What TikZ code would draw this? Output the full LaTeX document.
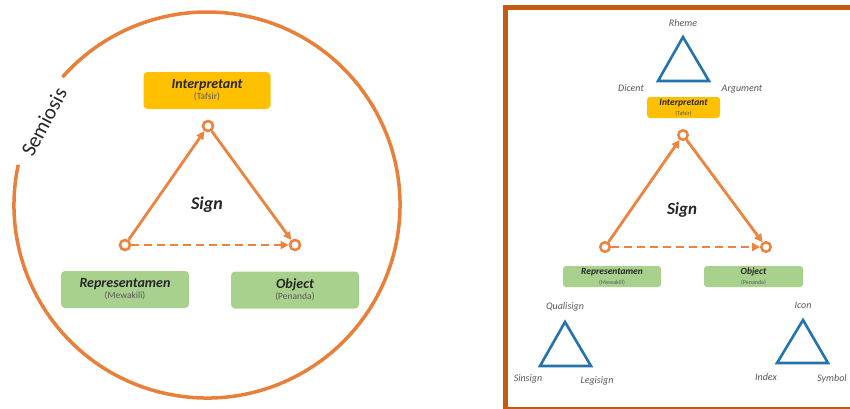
\documentclass[tikz,border=0pt]{standalone}
\usepackage{fontspec}
\setmainfont{Carlito}
\usetikzlibrary{arrows.meta,calc}
\definecolor{semorange}{HTML}{E8803A}
\definecolor{triorange}{HTML}{EC843F}
\definecolor{framebrown}{HTML}{C55A11}
\definecolor{interyellow}{HTML}{FFC000}
\definecolor{boxgreen}{HTML}{A9D18E}
\definecolor{triblue}{HTML}{2374AB}
\definecolor{darktext}{HTML}{262626}
\definecolor{subgray}{HTML}{595959}
\tikzset{
  labelbox/.style={rounded corners=4pt, inner sep=0pt, align=center, text=darktext},
  vtx/.style={circle, draw=triorange, fill=white, line width=2.6pt, minimum size=10pt, inner sep=0pt},
  vtxs/.style={circle, draw=triorange, fill=white, line width=2.5pt, minimum size=9.5pt, inner sep=0pt},
  arr/.style={draw=triorange, line width=2.8pt, -{Triangle[length=8pt,width=8pt]}},
  arrd/.style={arr, dash pattern=on 8pt off 5pt},
  bluetri/.style={draw=triblue, line width=2.6pt, line join=miter},
  termtext/.style={text=subgray, font=\itshape},
}
\begin{document}
\begin{tikzpicture}[x=1pt,y=-1pt]
\clip (0,0) rectangle (850,408);
\fill[white] (0,0) rectangle (850,408);

% ---------------- left panel ----------------
\coordinate (C) at (207,205);
\draw[semorange, line width=3.5pt] ([shift={(168:193pt)}]C) arc[start angle=168, end angle=498.5, radius=193pt];
\node[text=darktext, font=\fontsize{21}{21}\selectfont, rotate=62] (semiosis) at ([shift={(153:183pt)}]C) {Semiosis};

\node[labelbox, fill=interyellow, minimum width=127pt, minimum height=37pt] (interp) at (207,90.5)
  {{\fontsize{14}{15}\selectfont\bfseries\itshape Interpretant}\\[-1pt]{\fontsize{9.5}{10}\selectfont\color{subgray}(Tafsir)}};
\node[labelbox, fill=boxgreen, minimum width=128pt, minimum height=37pt] (repr) at (125,289.5)
  {{\fontsize{14}{15}\selectfont\bfseries\itshape Representamen}\\[-1pt]{\fontsize{9.5}{10}\selectfont\color{subgray}(Mewakili)}};
\node[labelbox, fill=boxgreen, minimum width=128pt, minimum height=37pt] (obj) at (295,290)
  {{\fontsize{14}{15}\selectfont\bfseries\itshape Object}\\[-1pt]{\fontsize{9.5}{10}\selectfont\color{subgray}(Penanda)}};

\node[vtx] (T) at (208,126) {};
\node[vtx] (L) at (125,245) {};
\node[vtx] (R) at (295,245) {};
\draw[arr] (L) -- (T);
\draw[arr] (T) -- (R);
\draw[arrd] (L) -- (R);
\node[text=darktext, font=\fontsize{18}{18}\selectfont\bfseries\itshape] (sign) at (207,205) {Sign};

% ---------------- right panel ----------------
\draw[framebrown, line width=5pt] (505,7.5) rectangle (860,409);

\node[labelbox, fill=interyellow, minimum width=73pt, minimum height=21pt, rounded corners=3pt] (interp2) at (683.5,107.5)
  {{\fontsize{9.5}{10}\selectfont\bfseries\itshape Interpretant}\\[-2pt]{\fontsize{6}{6}\selectfont\color{subgray}(Tafsir)}};
\node[labelbox, fill=boxgreen, minimum width=98pt, minimum height=21pt, rounded corners=3pt] (repr2) at (612,276.5)
  {{\fontsize{9.5}{10}\selectfont\bfseries\itshape Representamen}\\[-2pt]{\fontsize{6}{6}\selectfont\color{subgray}(Mewakili)}};
\node[labelbox, fill=boxgreen, minimum width=99pt, minimum height=21pt, rounded corners=3pt] (obj2) at (753.5,276.5)
  {{\fontsize{9.5}{10}\selectfont\bfseries\itshape Object}\\[-2pt]{\fontsize{6}{6}\selectfont\color{subgray}(Penanda)}};

\node[vtxs] (T2) at (683,135) {};
\node[vtxs] (L2) at (605,247) {};
\node[vtxs] (R2) at (766,247) {};
\draw[arr] (L2) -- (T2);
\draw[arr] (T2) -- (R2);
\draw[arrd] (L2) -- (R2);
\node[text=darktext, font=\fontsize{17}{17}\selectfont\bfseries\itshape] (sign2) at (682,210) {Sign};

% interpretant triad
\coordinate (ia) at (683,37);
\coordinate (ib) at (658,81);
\coordinate (ic) at (709,81);
\draw[bluetri] (ia) -- (ib) -- (ic) -- cycle;
\node[termtext, font=\fontsize{10}{10}\selectfont\itshape] (rheme) at (683,23) {Rheme};
\node[termtext, font=\fontsize{10}{10}\selectfont\itshape] (dicent) at (631,88) {Dicent};
\node[termtext, font=\fontsize{10}{10}\selectfont\itshape] (argument) at (742,89.5) {Argument};

% representamen triad
\coordinate (ra) at (565,322);
\coordinate (rb) at (540,366);
\coordinate (rc) at (591,366);
\draw[bluetri] (ra) -- (rb) -- (rc) -- cycle;
\node[termtext, font=\fontsize{10}{10}\selectfont\itshape] (quali) at (565,307) {Qualisign};
\node[termtext, font=\fontsize{10}{10}\selectfont\itshape] (sin) at (528,379) {Sinsign};
\node[termtext, font=\fontsize{10}{10}\selectfont\itshape] (legi) at (597,381) {Legisign};

% object triad
\coordinate (oa) at (803,320);
\coordinate (ob) at (777,363);
\coordinate (oc) at (828,363);
\draw[bluetri] (oa) -- (ob) -- (oc) -- cycle;
\node[termtext, font=\fontsize{10}{10}\selectfont\itshape] (icon) at (803,305) {Icon};
\node[termtext, font=\fontsize{10}{10}\selectfont\itshape] (index) at (766,377) {Index};
\node[termtext, font=\fontsize{10}{10}\selectfont\itshape] (symbol) at (832,379) {Symbol};
\end{tikzpicture}
\end{document}
